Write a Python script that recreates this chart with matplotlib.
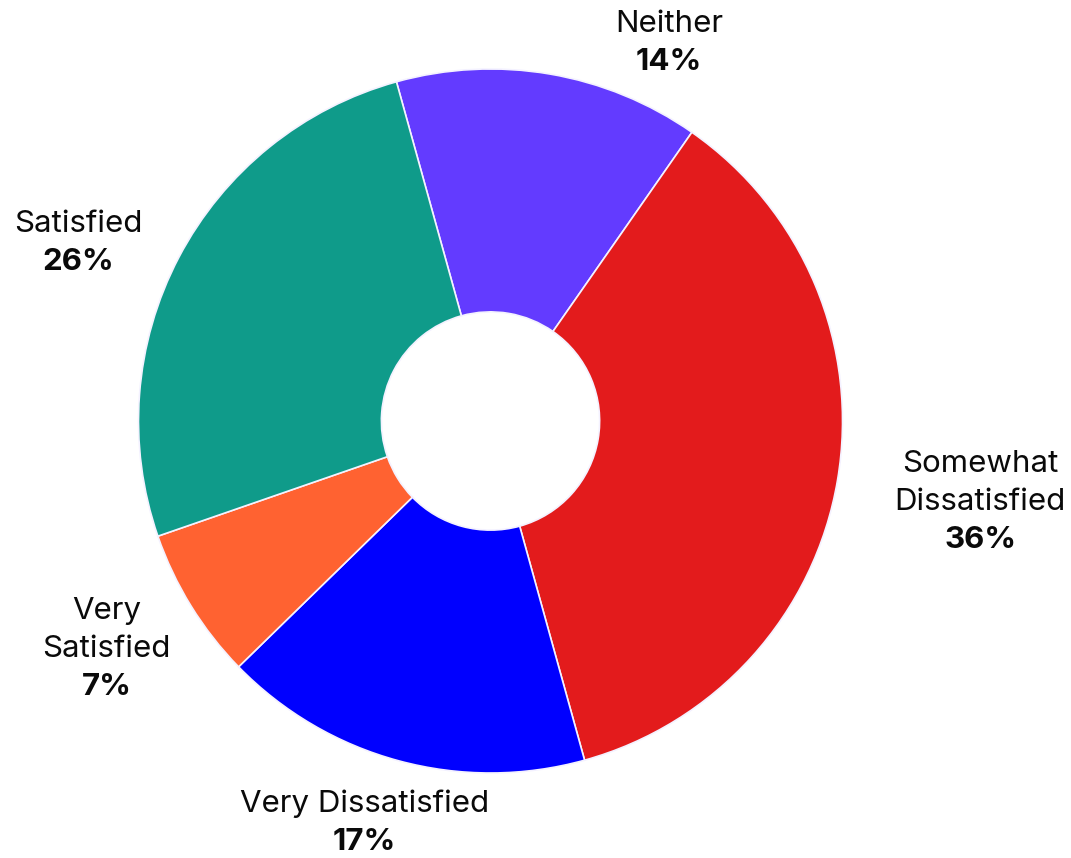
import matplotlib.pyplot as plt
import numpy as np

plt.rcParams['font.family'] = ['Inter', 'DejaVu Sans']

# survey answers, clockwise from the top
categories = ["Neither", "Somewhat\nDissatisfied", "Very Dissatisfied", "Very\nSatisfied", "Satisfied"]
shares = [14, 36, 17, 7, 26]
colors = ["#633bff", "#e31b1c", "#0000ff", "#ff6231", "#0f9b8a"]

# where each percentage line sits (data units, pie radius = 1)
label_pos = [(0.507, 1.020), (1.391, -0.338), (-0.359, -1.196), (-1.090, -0.756), (-1.172, 0.452)]
line_step = 38 * 0.72  # px -> points at dpi 100

fig = plt.figure(figsize=(10.71, 8.58), dpi=100)
ax = fig.add_axes([0, 0, 1, 1])

ax.pie(shares, colors=colors, startangle=105.5, counterclock=False,
       radius=1.0, wedgeprops=dict(width=0.69, edgecolor="#f4f2ff", linewidth=1.2))

for name, pct, (x, y) in zip(categories, shares, label_pos):
    ax.annotate(f"{pct}%", (x, y), ha="center", va="center",
                fontsize=22.5, fontweight="bold", color="#0a0a0a")
    lines = name.split("\n")
    for i, line in enumerate(reversed(lines)):
        ax.annotate(line, (x, y), xytext=(0, line_step * (i + 1)), textcoords="offset points",
                    ha="center", va="center", fontsize=22.5, color="#0a0a0a")

ax.set_xlim(-1.3935, 1.6491)
ax.set_ylim(-1.2415, 1.196)
ax.set_aspect("equal")
ax.axis("off")

fig.savefig("out.png", dpi=100, facecolor="white")
